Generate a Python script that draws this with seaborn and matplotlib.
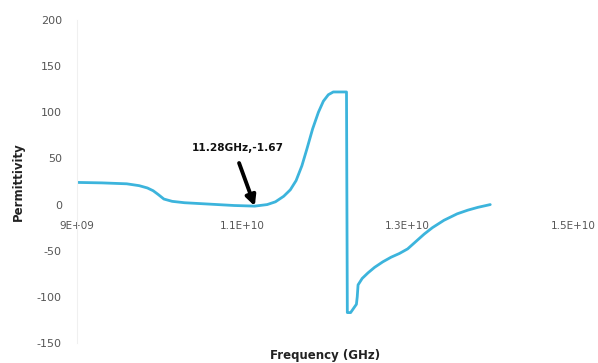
import matplotlib
matplotlib.use("Agg")
import matplotlib.pyplot as plt
import seaborn as sns
import pandas as pd

freq_ghz = [9.0, 9.3, 9.6, 9.75, 9.85, 9.92, 9.98, 10.05, 10.15, 10.3, 10.5, 10.7, 10.9, 11.15,
            11.3, 11.4, 11.5, 11.58, 11.65, 11.72, 11.78, 11.85, 11.92, 11.98, 12.04, 12.1, 12.18, 12.26,
            12.27, 12.31, 12.38, 12.39, 12.40, 12.45, 12.52, 12.6, 12.7, 12.8, 12.9, 13.0,
            13.1, 13.2, 13.3, 13.44, 13.6, 13.73, 13.85, 14.0]
permittivity = [24, 23.5, 22.5, 20.5, 18, 15, 11, 6, 3.5, 2, 1, 0, -1, -1.67,
                0, 3, 9, 16, 26, 42, 60, 82, 100, 112, 119, 122, 122, 122,
                -117, -117, -108, -100, -87, -80, -74, -68, -62, -57, -53, -48,
                -40, -32, -25, -17, -10, -6, -3, 0]
xtick_vals = [9e9, 1.1e10, 1.3e10, 1.5e10]
xtick_labels = ["9E+09", "1.1E+10", "1.3E+10", "1.5E+10"]
ytick_vals = [-150, -100, -50, 0, 50, 100, 150, 200]
annot_text = "11.28GHz,-1.67"
annot_point = (11.15e9, -1.67)

df = pd.DataFrame({"Frequency": [f * 1e9 for f in freq_ghz], "Permittivity": permittivity})

sns.set_style("white")
plt.rcParams["font.family"] = ["DejaVu Sans"]
plt.rcParams["axes.unicode_minus"] = False

fig = plt.figure(figsize=(5.98, 3.63), dpi=100)
ax = fig.add_axes([0.129, 0.055, 0.829, 0.89])

sns.lineplot(data=df, x="Frequency", y="Permittivity", sort=False, estimator=None,
             color="#3cb4dc", linewidth=2.0, ax=ax)

ax.set_xlim(9e9, 1.5e10)
ax.set_ylim(-150, 200)
ax.set_xticks(xtick_vals)
ax.set_xticklabels(xtick_labels)
ax.set_yticks(ytick_vals)

for s in ["top", "right"]:
    ax.spines[s].set_visible(False)
ax.spines["bottom"].set_position(("data", 0))
ax.spines["bottom"].set_visible(False)
ax.spines["left"].set_color("#f0f0f0")
ax.spines["left"].set_linewidth(0.8)

ax.tick_params(axis="x", length=0, pad=12, labelsize=7.5, labelcolor="#555555")
ax.tick_params(axis="y", length=0, pad=11, labelsize=8, labelcolor="#555555")

ax.set_ylabel("Permittivity", fontsize=8.5, fontweight="bold", color="#222222")
ax.yaxis.set_label_coords(-0.105, 0.5)
ax.set_xlabel("Frequency (GHz)", fontsize=8.5, fontweight="bold", color="#222222")
ax.xaxis.set_label_coords(0.5, -0.018)

ax.text(10.94e9, 61, annot_text, fontsize=7.6, fontweight="bold", color="#111111",
        ha="center", va="center")
ax.annotate("", xy=annot_point, xytext=(10.96e9, 45),
            arrowprops=dict(arrowstyle="-|>", lw=2.8, mutation_scale=15, color="black",
                            shrinkA=0, shrinkB=0))

fig.savefig("out.png", dpi=100)
